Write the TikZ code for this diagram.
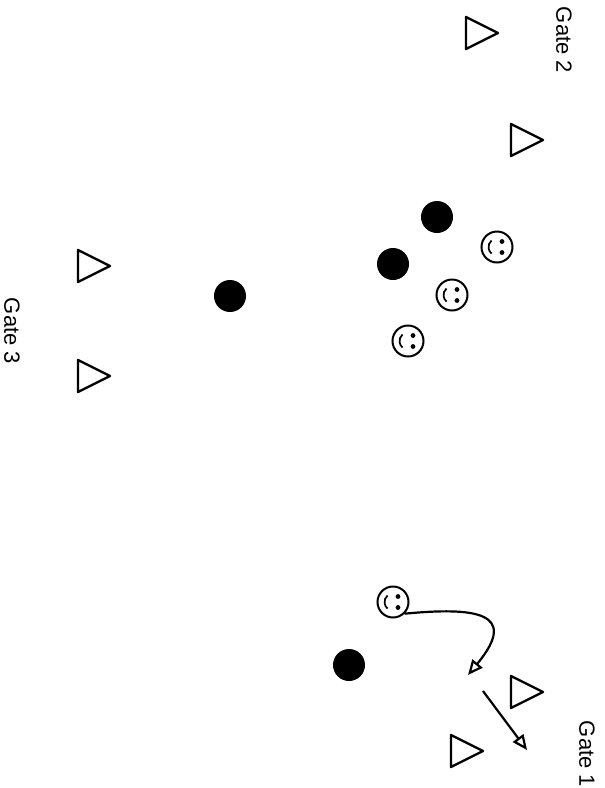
\documentclass[tikz,border=0pt]{standalone}
\usepackage{fontspec}
\setmainfont{Liberation Sans}
\usetikzlibrary{arrows.meta}

\begin{document}
\begin{tikzpicture}[
    x=1pt, y=-1pt,
    every node/.style={inner sep=0pt},
    gate/.style={font=\fontsize{22}{22}\selectfont, rotate=-90},
    dot/.style={circle, fill=black, minimum size=32pt},
    fan/.style={circle, draw, line width=2pt, minimum size=31pt, path picture={
        \fill[shift={(path picture bounding box.center)}] (5pt,5.5pt) circle (2.4pt) (5pt,-5.5pt) circle (2.4pt);
        \draw[line width=1.7pt, shift={(path picture bounding box.center)}] (130:8.5pt) arc[start angle=130, end angle=230, radius=8.5pt];}},
    cone/.pic={\draw[line width=2.4pt, line join=round] (-16,-16) -- (16,0) -- (-16,16) -- cycle;},
    run/.style={-{Triangle[open, length=15pt, width=13pt]}, line width=2.2pt}
]
\useasboundingbox (0,0) rectangle (605,788);

% gates
\node[gate] (gate2) at (564,40) {Gate 2};
\node[gate] (gate3) at (12,331) {Gate 3};
\node[gate] (gate1) at (587,754) {Gate 1};
\pic at (482,33) {cone};
\pic at (527,140) {cone};
\pic at (94,266) {cone};
\pic at (94,376) {cone};
\pic at (527,692) {cone};
\pic at (467,751) {cone};

% players
\node[dot] (dot1) at (437,217) {};
\node[dot] (dot2) at (393,264) {};
\node[dot] (dot3) at (230,296) {};
\node[dot] (dot4) at (349,665) {};
\node[fan] (fan1) at (497,247) {};
\node[fan] (fan2) at (452,295) {};
\node[fan] (fan3) at (408,341) {};
\node[fan] (fan4) at (393,602) {};

% runs
\coordinate (turn) at (468,675);
\coordinate (dash0) at (483,691);
\coordinate (dash1) at (527,750);
\draw[run] (fan4.south east) .. controls (475,607) and (520,612) .. (turn);
\draw[run] (dash0) -- (dash1);
\end{tikzpicture}
\end{document}
